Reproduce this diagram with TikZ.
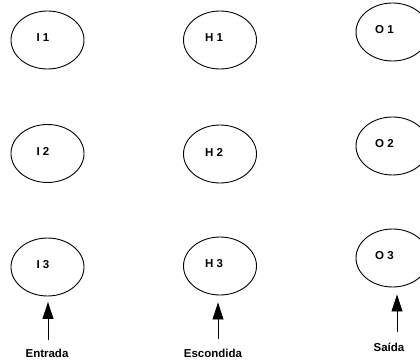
\documentclass[tikz,border=0pt]{standalone}
\usepackage{fontspec}
\setmainfont{Liberation Sans}
\usetikzlibrary{shapes.geometric,arrows.meta}
\begin{document}
\begin{tikzpicture}[x=1pt,y=-1pt,
  neuron/.style={draw,line width=0.9pt,ellipse,minimum width=73pt,minimum height=58pt,inner sep=0pt},
  lbl/.style={font=\fontsize{11.5}{13}\selectfont\bfseries},
  feed/.style={line width=0.9pt,-{Triangle[width=11pt,length=17pt]}}]
\useasboundingbox (0,0) rectangle (420,363);
\fill[white] (0,0) rectangle (420,363);
% input layer
\node[neuron,label={[lbl,xshift=-4.5pt,yshift=2pt]center:I 1}] (i1) at (47.5,40) {};
\node[neuron,label={[lbl,xshift=-4.5pt,yshift=2pt]center:I 2}] (i2) at (47.5,153.5) {};
\node[neuron,label={[lbl,xshift=-4.5pt,yshift=2pt]center:I 3}] (i3) at (47.5,267) {};
% hidden layer
\node[neuron,label={[lbl,xshift=-6pt,yshift=2pt]center:H 1}] (h1) at (220,40) {};
\node[neuron,label={[lbl,xshift=-6pt,yshift=2pt]center:H 2}] (h2) at (220,154) {};
\node[neuron,label={[lbl,xshift=-6pt,yshift=2pt]center:H 3}] (h3) at (220,266) {};
% output layer
\node[neuron,label={[lbl,xshift=-8pt,yshift=2pt]center:O 1}] (o1) at (392.5,32) {};
\node[neuron,label={[lbl,xshift=-8pt,yshift=2pt]center:O 2}] (o2) at (392.5,146) {};
\node[neuron,label={[lbl,xshift=-8pt,yshift=2pt]center:O 3}] (o3) at (392.5,258) {};
% arrows and captions
\coordinate (ei) at (48,340);
\coordinate (eh) at (218,339);
\coordinate (eo) at (397,332);
\draw[feed,shorten >=5.5pt] (ei) -- (ei |- i3.south);
\draw[feed,shorten >=7pt] (eh) -- (eh |- h3.south);
\draw[feed,shorten >=7pt] (eo) -- (eo |- o3.south);
\node[lbl] (te) at (47,353) {Entrada};
\node[lbl] (th) at (213,353) {Escondida};
\node[lbl] (to) at (389,347) {Saída};
\end{tikzpicture}
\end{document}
